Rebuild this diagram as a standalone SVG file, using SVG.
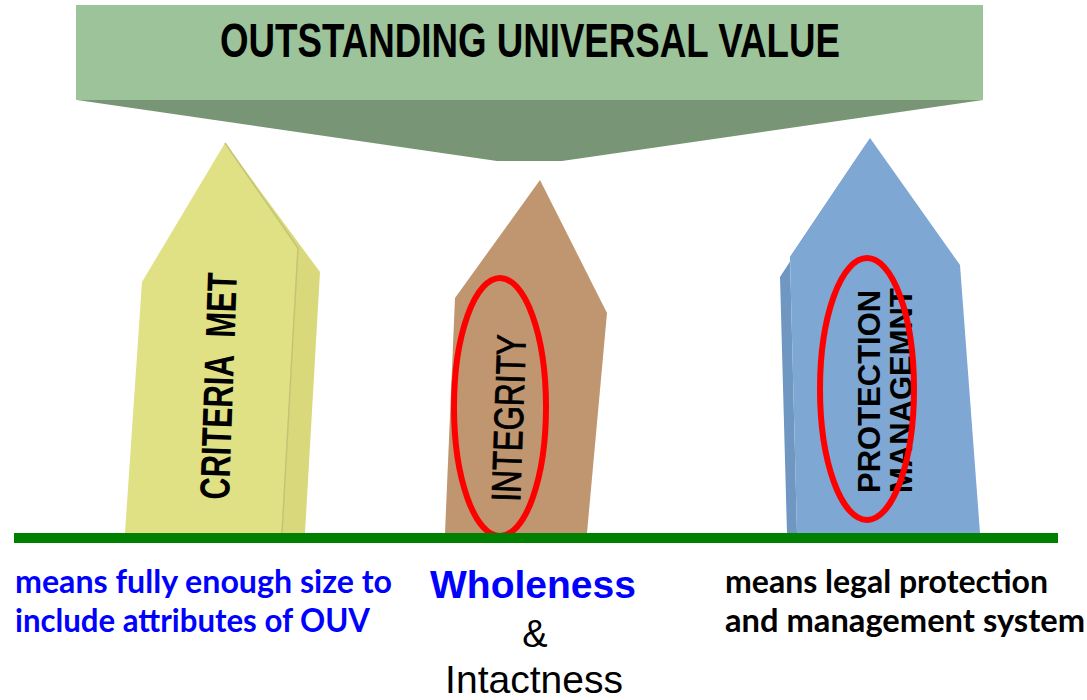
<svg xmlns="http://www.w3.org/2000/svg" width="1087" height="700" viewBox="0 0 1087 700">
  <style>
    .pillar-text { font-family: "Liberation Sans", Arial, sans-serif; fill: #000; }
    .bold { font-weight: bold; }
    .note { font-family: Lato, "Open Sans", sans-serif; font-weight: bold; font-size: 32px; }
    .ring { fill: none; stroke: #ff0000; stroke-width: 6; }
  </style>
  <rect width="1087" height="700" fill="#ffffff"/>

  <g id="ouv-banner">
    <polygon points="77,100 983,100 562,161 497,161" fill="#789676"/>
    <rect x="76" y="5" width="907" height="95" fill="#9cc39a"/>
    <text x="530" y="57" text-anchor="middle" class="pillar-text bold" font-size="48" textLength="620" lengthAdjust="spacingAndGlyphs">OUTSTANDING UNIVERSAL VALUE</text>
  </g>

  <g id="criteria-pillar">
    <polygon points="225,143 320,272 305,533 282,533 298,248" fill="#d9d97c"/>
    <polygon points="225,143 142,282 125,533 282,533 298,248" fill="#e0e084"/>
    <polyline points="225,143 298,248 282,533" fill="none" stroke="#c4c474" stroke-width="1.5"/>
    <text transform="translate(229,500) rotate(-88)" class="pillar-text bold" font-size="42" textLength="227" lengthAdjust="spacingAndGlyphs">CRITERIA&#160; MET</text>
  </g>

  <g id="integrity-pillar">
    <polygon points="540,180 455,298 445,533 587,533 607,313" fill="#bf9670"/>
    <text transform="translate(520,502) rotate(-88)" class="pillar-text" font-size="41" stroke="#000" stroke-width="0.9" textLength="167" lengthAdjust="spacingAndGlyphs">INTEGRITY</text>
    <ellipse class="ring" cx="500" cy="407" rx="46" ry="129"/>
  </g>

  <g id="protection-pillar">
    <polygon points="870,138 790,257 797,533 787,533 780,277" fill="#6f97c2"/>
    <polygon points="870,138 790,257 797,533 980,533 960,265" fill="#7ea7d3"/>
    <text transform="translate(880,493) rotate(-90)" class="pillar-text bold" font-size="31">PROTECTION</text>
    <text transform="translate(912,493) rotate(-90)" class="pillar-text bold" font-size="31">MANAGEMNT</text>
    <ellipse class="ring" cx="867" cy="389" rx="47" ry="131"/>
  </g>

  <g id="ground-line">
    <rect x="14" y="533" width="1044" height="10" fill="#008000"/>
  </g>

  <g id="criteria-note">
    <text x="15" y="593" class="note" fill="#0000ff" textLength="377" lengthAdjust="spacingAndGlyphs">means fully enough size to</text>
    <text x="15" y="632" class="note" fill="#0000ff" textLength="355" lengthAdjust="spacingAndGlyphs">include attributes of OUV</text>
  </g>

  <g id="integrity-note">
    <text x="533" y="598" text-anchor="middle" class="pillar-text bold" font-size="39" style="fill:#0000ff">Wholeness</text>
    <text x="535" y="647" text-anchor="middle" class="pillar-text" font-size="38">&amp;</text>
    <text x="534" y="693" text-anchor="middle" class="pillar-text" font-size="39">Intactness</text>
  </g>

  <g id="protection-note">
    <text x="725" y="593" class="note" fill="#000000" textLength="323" lengthAdjust="spacingAndGlyphs">means legal protection</text>
    <text x="725" y="632" class="note" fill="#000000" textLength="360" lengthAdjust="spacingAndGlyphs">and management system</text>
  </g>
</svg>
